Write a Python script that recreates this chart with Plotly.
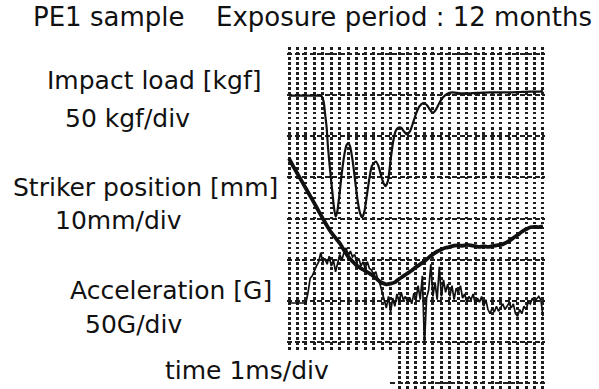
import plotly.graph_objects as go

# ---------------- data ----------------
# Impact load [kgf] (signal goes downward on the screen), time in ms
T_LOAD = [0.00, 0.26, 0.50, 0.69, 0.77, 0.82, 0.85, 0.89, 0.92, 0.97, 1.02, 1.06,
          1.10, 1.14, 1.19, 1.25, 1.31, 1.36, 1.40, 1.44, 1.50, 1.56, 1.62, 1.68,
          1.73, 1.78, 1.84, 1.90, 1.96, 2.05, 2.11, 2.17, 2.23, 2.28, 2.34, 2.40,
          2.46, 2.52, 2.58, 2.65, 2.71, 2.78, 2.86, 2.93, 3.00, 3.08, 3.17, 3.25,
          3.33, 3.40, 3.47, 3.56, 3.64, 3.73, 3.85, 4.04, 4.28, 4.51, 4.75, 4.98,
          5.22, 5.46, 5.69, 5.93, 6.00]
LOAD_KGF = [0, 0, 0, 0, 0.4, 7.7, 21, 39, 62, 90, 115, 135,
            147, 141, 121, 93, 71, 60, 58, 61, 78, 102, 127, 143,
            148, 141, 121, 100, 85, 80, 85, 96, 106, 110, 103, 78,
            56, 43, 39, 39, 43, 47, 43, 33, 22, 13, 9, 11,
            17, 21, 17, 8, 2, -2, -4, -3, -3, -3.5, -4, -4,
            -4, -4.5, -5, -5, -6]

# Striker position [mm]
T_POS = [0.0, 0.1, 0.2, 0.3, 0.4, 0.5, 0.6, 0.7, 0.8, 0.9, 1.0, 1.1, 1.2, 1.3, 1.4,
         1.5, 1.6, 1.7, 1.8, 1.9, 2.0, 2.1, 2.2, 2.3, 2.4, 2.5, 2.6, 2.7, 2.8, 2.9,
         3.0, 3.1, 3.2, 3.3, 3.4, 3.5, 3.6, 3.7, 3.8, 3.9, 4.0, 4.1, 4.2, 4.3, 4.4,
         4.5, 4.6, 4.7, 4.8, 4.9, 5.0, 5.1, 5.2, 5.3, 5.4, 5.5, 5.6, 5.7, 5.8, 5.9, 6.0]
POS_MM = [44.6, 42.7, 40.9, 39.1, 37.3, 35.5, 33.7, 31.8, 30.0, 28.2, 26.6, 25.3, 24.0, 22.3, 20.7,
          19.6, 18.6, 17.9, 17.3, 16.7, 16.0, 15.1, 14.4, 14.0, 14.2, 14.5, 15.3, 16.0, 16.7, 17.4,
          18.2, 18.9, 19.6, 20.5, 21.3, 22.0, 22.5, 22.9, 23.1, 23.4, 23.5, 23.4, 23.6, 23.5, 23.3,
          23.1, 23.3, 23.1, 23.3, 23.5, 23.6, 24.0, 24.6, 25.3, 26.0, 26.8, 27.4, 27.9, 28.0, 27.9, 28.1]

# Acceleration [G]
T_ACC = [0.00, 0.40, 0.45, 0.50, 0.55, 0.60, 0.65, 0.70, 0.75, 0.80, 0.85, 0.90, 0.95,
         1.00, 1.05, 1.10, 1.15, 1.20, 1.25, 1.30, 1.35, 1.40, 1.45, 1.50, 1.55,
         1.60, 1.65, 1.70, 1.75, 1.80, 1.85, 1.90, 1.95, 2.00, 2.05, 2.10, 2.15,
         2.20, 2.25, 2.30, 2.35, 2.40, 2.45, 2.50, 2.55, 2.60, 2.65, 2.70, 2.75,
         2.80, 2.85, 2.90, 2.95, 3.00, 3.05, 3.10, 3.15, 3.20, 3.25, 3.30, 3.35,
         3.40, 3.45, 3.50, 3.55, 3.60, 3.65, 3.70, 3.75, 3.80, 3.85, 3.90, 3.95,
         4.00, 4.05, 4.10, 4.15, 4.20, 4.25, 4.30, 4.35, 4.40, 4.45, 4.50, 4.55,
         4.60, 4.65, 4.70, 4.75, 4.80, 4.85, 4.90, 4.95, 5.00, 5.05, 5.10, 5.15,
         5.20, 5.25, 5.30, 5.35, 5.40, 5.45, 5.50, 5.55, 5.60, 5.65, 5.70, 5.75,
         5.80, 5.85, 5.90, 5.95, 6.00]
ACC_G = [0, 0, 13, 30, 33, 40, 45, 50, 61, 50, 54, 47, 57,
         45, 52, 38, 50, 59, 52, 62, 67, 57, 63, 56, 59,
         50, 54, 45, 50, 42, 50, 42, 40, 34, 38, 28, 23,
         13, 4, -6, 8, -11, 6, -4, 11, 1, 13, 4, 8,
         1, 7, -1, 12, 4, 21, 4, 33, -51, 6, 16, 47,
         8, 25, 4, 44, 8, 28, 13, 23, 8, 21, 4, 18,
         13, 21, 6, 11, 1, 8, 4, 11, -1, 6, 1, 8,
         -4, 4, -8, -13, -6, -11, -4, -10, -6, -1, -8, -4,
         0, -6, -1, -13, -16, -8, -13, -4, -8, 1, -1, 6,
         1, 5, 8, 4, -16]

# Screen scales (units per division) and zero levels (divisions above bottom dashed line)
LOAD_PER_DIV, LOAD_ZERO_DIV = -50.0, 5.987   # load is displayed downward
POS_PER_DIV, POS_ZERO_DIV = 10.0, 0.0
ACC_PER_DIV, ACC_ZERO_DIV = 50.0, 0.948

# ---------------- geometry ----------------
W, H = 599, 389
PX_DIV_Y = 41.14          # px per vertical division
PX_DIV_X = 42.33          # px per ms
Y0 = 342                  # px of division 0
X0 = 289                  # px of t = 0


def px(x):
    return x / W


def py(y):
    return 1 - y / H


def div_of(ypx):
    return (Y0 - ypx) / PX_DIV_Y


def t_of(xpx):
    return (xpx - X0) / PX_DIV_X


def to_div(values, per_div, zero_div):
    return [zero_div + v / per_div for v in values]


MAIN_TOP, MAIN_BOT, MAIN_L, MAIN_R = 47, 351, 287, 545
STUB_L = 390

GRID = "#1e1e1e"
LINE = "#111111"

fig = go.Figure()
fig.add_trace(go.Scatter(x=T_LOAD, y=to_div(LOAD_KGF, LOAD_PER_DIV, LOAD_ZERO_DIV),
                         customdata=LOAD_KGF, mode="lines",
                         line=dict(color=LINE, width=2.2, shape="spline", smoothing=0.6),
                         name="Impact load [kgf]"))
fig.add_trace(go.Scatter(x=T_POS, y=to_div(POS_MM, POS_PER_DIV, POS_ZERO_DIV),
                         customdata=POS_MM, mode="lines",
                         line=dict(color=LINE, width=3.8, shape="spline", smoothing=0.5),
                         name="Striker position [mm]"))
fig.add_trace(go.Scatter(x=T_ACC, y=to_div(ACC_G, ACC_PER_DIV, ACC_ZERO_DIV),
                         customdata=ACC_G, mode="lines",
                         line=dict(color=LINE, width=1.7),
                         name="Acceleration [G]"))
# empty trace so the lower grid piece gets drawn
fig.add_trace(go.Scatter(x=[None], y=[None], xaxis="x2", yaxis="y2", hoverinfo="skip"))

vgrid = dict(showgrid=True, gridcolor=GRID, gridwidth=3, griddash="2.5px,2.5px",
             dtick=0.2, tick0=0, showticklabels=False, ticks="", zeroline=False,
             showline=False)
hgrid = dict(showgrid=True, gridcolor=GRID, gridwidth=2.2, griddash="5px,2.5px",
             dtick=1, tick0=0, showticklabels=False, ticks="", zeroline=False,
             showline=False)

fig.update_layout(
    width=W, height=H, autosize=False,
    margin=dict(l=0, r=0, t=0, b=0),
    paper_bgcolor="white", plot_bgcolor="white",
    showlegend=False,
    xaxis=dict(vgrid, domain=[px(MAIN_L), px(MAIN_R)], range=[t_of(MAIN_L), t_of(MAIN_R)]),
    yaxis=dict(hgrid, domain=[py(MAIN_BOT), py(MAIN_TOP)],
               range=[div_of(MAIN_BOT), div_of(MAIN_TOP)]),
    xaxis2=dict(vgrid, domain=[px(STUB_L), px(MAIN_R)], range=[t_of(STUB_L), t_of(MAIN_R)],
                anchor="y2"),
    yaxis2=dict(hgrid, domain=[0, py(MAIN_BOT)], range=[div_of(H), div_of(MAIN_BOT)],
                anchor="x2"),
)

TITLE_FONT = dict(family="DejaVu Sans", size=26, color="#111111")
FONT = dict(family="DejaVu Sans", size=25, color="#111111")
LABELS = [
    ("PE1 sample", 31, 17, TITLE_FONT),
    ("Exposure period : 12 months", 214, 17, TITLE_FONT),
    ("Impact load [kgf]", 45, 80.5, FONT),
    ("50 kgf/div", 63, 118, FONT),
    ("Striker position [mm]", 11, 187, FONT),
    ("10mm/div", 53, 221, FONT),
    ("Acceleration [G]", 68, 290, FONT),
    ("50G/div", 83, 324, FONT),
    ("time 1ms/div", 163, 370, FONT),
]
for text, x, y, f in LABELS:
    fig.add_annotation(text=text, x=px(x), y=py(y), xref="paper", yref="paper",
                       xanchor="left", yanchor="middle", showarrow=False, font=f)

fig.write_html("out.html")
